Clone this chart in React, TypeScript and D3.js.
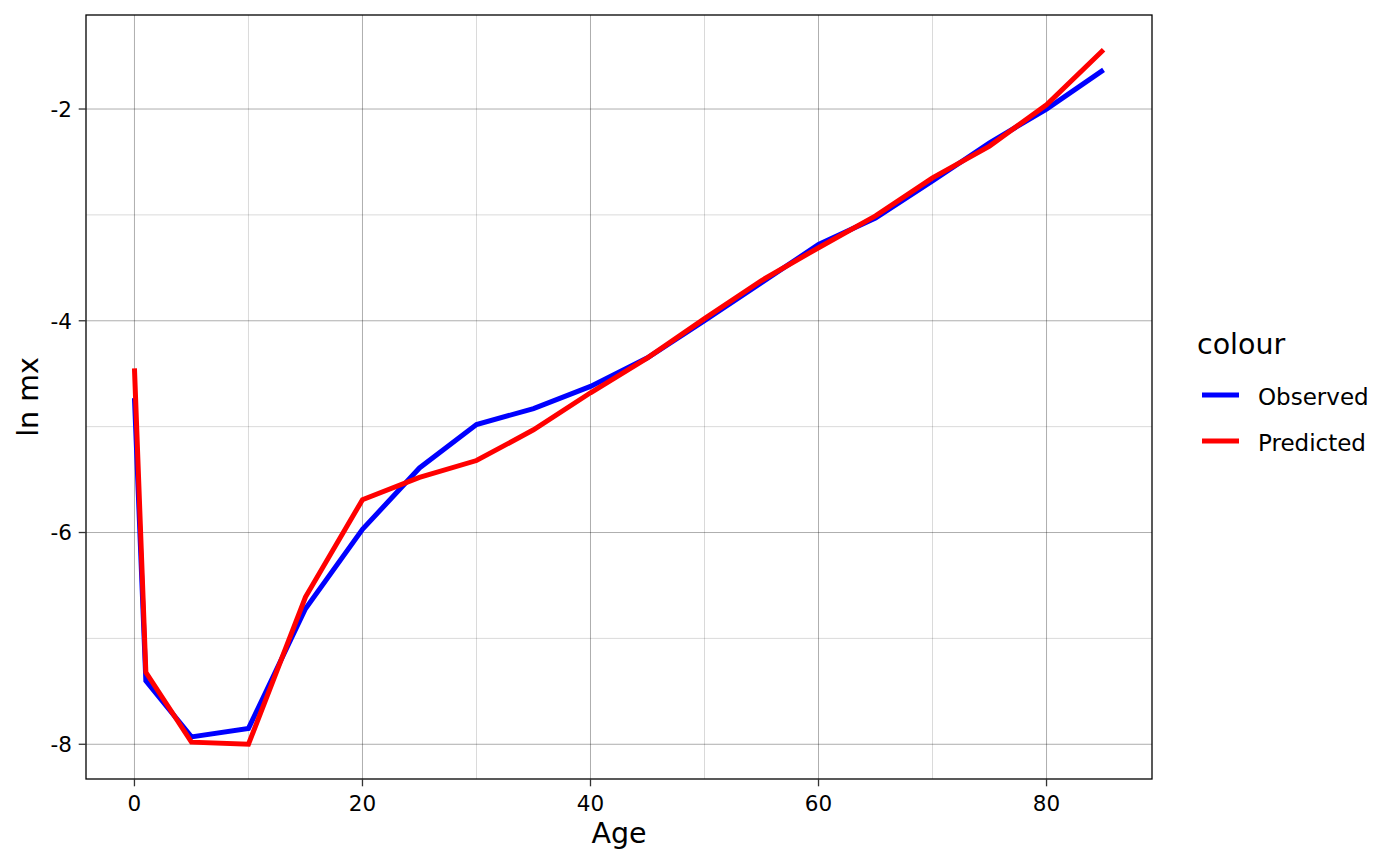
import * as d3 from "d3"

const ages = [0, 1, 5, 10, 15, 20, 25, 30, 35, 40, 45, 50, 55, 60, 65, 70, 75, 80, 85]
const observed = [
  -4.73, -7.4, -7.93, -7.85, -6.72, -5.97, -5.39, -4.98, -4.83, -4.62, -4.35, -4.0, -3.64, -3.28,
  -3.03, -2.68, -2.32, -2.0, -1.63,
]
const predicted = [
  -4.45, -7.32, -7.98, -8.0, -6.61, -5.69, -5.48, -5.32, -5.03, -4.68, -4.35, -3.98, -3.62, -3.31,
  -3.01, -2.65, -2.35, -1.96, -1.44,
]
const seriesNames = ["Observed", "Predicted"]
const seriesColors = ["#0000ff", "#ff0000"]
const xMajor = [0, 20, 40, 60, 80]
const xMinor = [10, 30, 50, 70]
const yMajor = [-8, -6, -4, -2]
const yMinor = [-7, -5, -3]

const W = 1400
const H = 865
const m = { left: 86, right: 1152, top: 15, bottom: 779 }
const FONT = "'DejaVu Sans', sans-serif"

export default function App() {
  const xExt = d3.extent(ages) as [number, number]
  const xPad = (xExt[1] - xExt[0]) * 0.05
  const x = d3
    .scaleLinear()
    .domain([xExt[0] - xPad, xExt[1] + xPad])
    .range([m.left, m.right])

  const yExt = d3.extent(observed.concat(predicted)) as [number, number]
  const yPad = (yExt[1] - yExt[0]) * 0.05
  const y = d3
    .scaleLinear()
    .domain([yExt[0] - yPad, yExt[1] + yPad])
    .range([m.bottom, m.top])

  const line = d3
    .line<[number, number]>()
    .x((d) => x(d[0]))
    .y((d) => y(d[1]))

  const series = [observed, predicted].map((vals, i) => ({
    name: seriesNames[i],
    color: seriesColors[i],
    path: line(ages.map((a, j) => [a, vals[j]]))!,
  }))

  return (
    <svg
      width={W}
      height={H}
      style={{ position: "absolute", left: 0, top: 0, background: "#fff" }}
      fontFamily={FONT}
    >
      <rect x={0} y={0} width={W} height={H} fill="#fff" />

      {/* minor grid */}
      {xMinor.map((v) => (
        <line key={`xm${v}`} x1={x(v)} x2={x(v)} y1={m.top} y2={m.bottom} stroke="#000" strokeOpacity={0.15} strokeWidth={1} />
      ))}
      {yMinor.map((v) => (
        <line key={`ym${v}`} x1={m.left} x2={m.right} y1={y(v)} y2={y(v)} stroke="#000" strokeOpacity={0.15} strokeWidth={1} />
      ))}
      {/* major grid */}
      {xMajor.map((v) => (
        <line key={`xM${v}`} x1={x(v)} x2={x(v)} y1={m.top} y2={m.bottom} stroke="#000" strokeOpacity={0.32} strokeWidth={1} />
      ))}
      {yMajor.map((v) => (
        <line key={`yM${v}`} x1={m.left} x2={m.right} y1={y(v)} y2={y(v)} stroke="#000" strokeOpacity={0.32} strokeWidth={1} />
      ))}

      {series.map((s) => (
        <path key={s.name} d={s.path} fill="none" stroke={s.color} strokeWidth={5} strokeLinejoin="miter" strokeLinecap="butt" />
      ))}

      <rect
        x={m.left}
        y={m.top}
        width={m.right - m.left}
        height={m.bottom - m.top}
        fill="none"
        stroke="#000"
        strokeWidth={1.3}
      />

      {/* x axis */}
      {xMajor.map((v) => (
        <g key={`xt${v}`}>
          <line x1={x(v)} x2={x(v)} y1={m.bottom} y2={m.bottom + 7.3} stroke="#333" strokeWidth={1.3} />
          <text x={x(v)} y={811} textAnchor="middle" fontSize={21.5} fill="#000">
            {v}
          </text>
        </g>
      ))}
      {/* y axis */}
      {yMajor.map((v) => (
        <g key={`yt${v}`}>
          <line x1={m.left - 7.3} x2={m.left} y1={y(v)} y2={y(v)} stroke="#333" strokeWidth={1.3} />
          <text x={72} y={y(v)} dy="0.36em" textAnchor="end" fontSize={21.5} fill="#000">
            {v}
          </text>
        </g>
      ))}

      <text x={(m.left + m.right) / 2} y={843} textAnchor="middle" fontSize={28.5} fill="#000">
        Age
      </text>
      <text
        transform={`translate(38,${(m.top + m.bottom) / 2}) rotate(-90)`}
        textAnchor="middle"
        fontSize={28.5}
        fill="#000"
      >
        ln mx
      </text>

      {/* legend */}
      <text x={1197} y={354} fontSize={28.5} fill="#000">
        colour
      </text>
      {series.map((s, i) => (
        <g key={`lg${s.name}`} transform={`translate(1202,${395 + i * 46})`}>
          <line x1={0} x2={37} y1={0} y2={0} stroke={s.color} strokeWidth={5} />
          <text x={56} y={0} dy="0.43em" fontSize={23} fill="#000">
            {s.name}
          </text>
        </g>
      ))}
    </svg>
  )
}
